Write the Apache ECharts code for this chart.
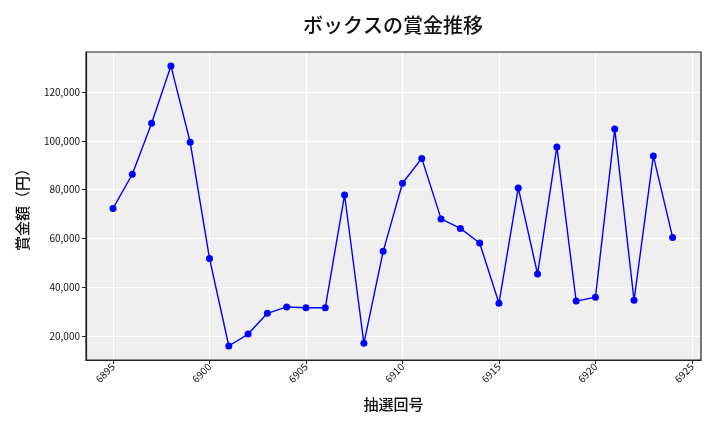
<!DOCTYPE html>
<html>
<head>
<meta charset="utf-8">
<script src="https://cdn.jsdelivr.net/npm/echarts@6/dist/echarts.min.js"></script>
<style>
  html, body { margin: 0; padding: 0; background: #fff; }
  #chart { width: 720px; height: 432px; }
</style>
</head>
<body>
<div id="chart"></div>
<script>
// 抽選回号
const draws = [
  6895, 6896, 6897, 6898, 6899, 6900, 6901, 6902, 6903, 6904,
  6905, 6906, 6907, 6908, 6909, 6910, 6911, 6912, 6913, 6914,
  6915, 6916, 6917, 6918, 6919, 6920, 6921, 6922, 6923, 6924
]
// 賞金額（円）
const prizes = [
  72300, 86300, 107200, 130700, 99400, 51800, 15900, 20800, 29300, 31900,
  31600, 31600, 77800, 17000, 54700, 82600, 92800, 68000, 64100, 58100,
  33400, 80700, 45400, 97500, 34300, 35900, 104800, 34600, 93800, 60400
]
const xTicks = [6895, 6900, 6905, 6910, 6915, 6920, 6925]
const yTicks = [20000, 40000, 60000, 80000, 100000, 120000]

const font = '"Noto Sans CJK JP", "Noto Sans", sans-serif'
const chart = echarts.init(document.getElementById('chart'))

chart.setOption({
  animation: false,
  title: {
    text: 'ボックスの賞金推移',
    left: 298, top: 10,
    textStyle: { fontFamily: font, fontSize: 20, fontWeight: 500, color: '#111' }
  },
  grid: { left: 86, right: 19, top: 52, bottom: 72, backgroundColor: '#efefef', show: true, borderWidth: 0 },
  xAxis: {
    type: 'value',
    min: 6893.6, max: 6925.47,
    name: '抽選回号', nameLocation: 'middle', nameGap: 37,
    nameTextStyle: { fontFamily: font, fontSize: 15, fontWeight: 500, color: '#111' },
    axisLine: { show: true, onZero: false, lineStyle: { color: '#222', width: 1.2 } },
    axisTick: { show: true, length: 4, lineStyle: { color: '#222' }, customValues: xTicks },
    axisLabel: {
      customValues: xTicks, rotate: 45, fontFamily: font, fontSize: 10, color: '#111', margin: 5,
      formatter: v => String(v)
    },
    splitLine: { show: true, lineStyle: { color: '#fff', width: 1 } }
  },
  yAxis: {
    type: 'value',
    min: 10160, max: 136400,
    name: '賞金額（円）', nameLocation: 'middle', nameGap: 56, nameRotate: 90,
    nameTextStyle: { fontFamily: font, fontSize: 15, fontWeight: 500, color: '#111' },
    axisLine: { show: true, lineStyle: { color: '#222', width: 1.2 } },
    axisTick: { show: true, length: 4, lineStyle: { color: '#222' }, customValues: yTicks },
    axisLabel: {
      customValues: yTicks, fontFamily: font, fontSize: 10, color: '#111', margin: 6,
      formatter: v => v.toLocaleString('en-US')
    },
    splitLine: { show: true, lineStyle: { color: '#fff', width: 1 } }
  },
  series: [{
    type: 'line',
    data: draws.map((d, i) => [d, prizes[i]]),
    symbol: 'circle', symbolSize: 7,
    lineStyle: { color: '#0000ff', width: 1.4 },
    itemStyle: { color: '#0000ff' }
  }],
  graphic: [{
    type: 'rect', silent: true, z: 100,
    shape: { x: 86, y: 52, width: 615, height: 308 },
    style: { fill: 'none', stroke: '#222', lineWidth: 1.2 }
  }]
})
</script>
</body>
</html>
